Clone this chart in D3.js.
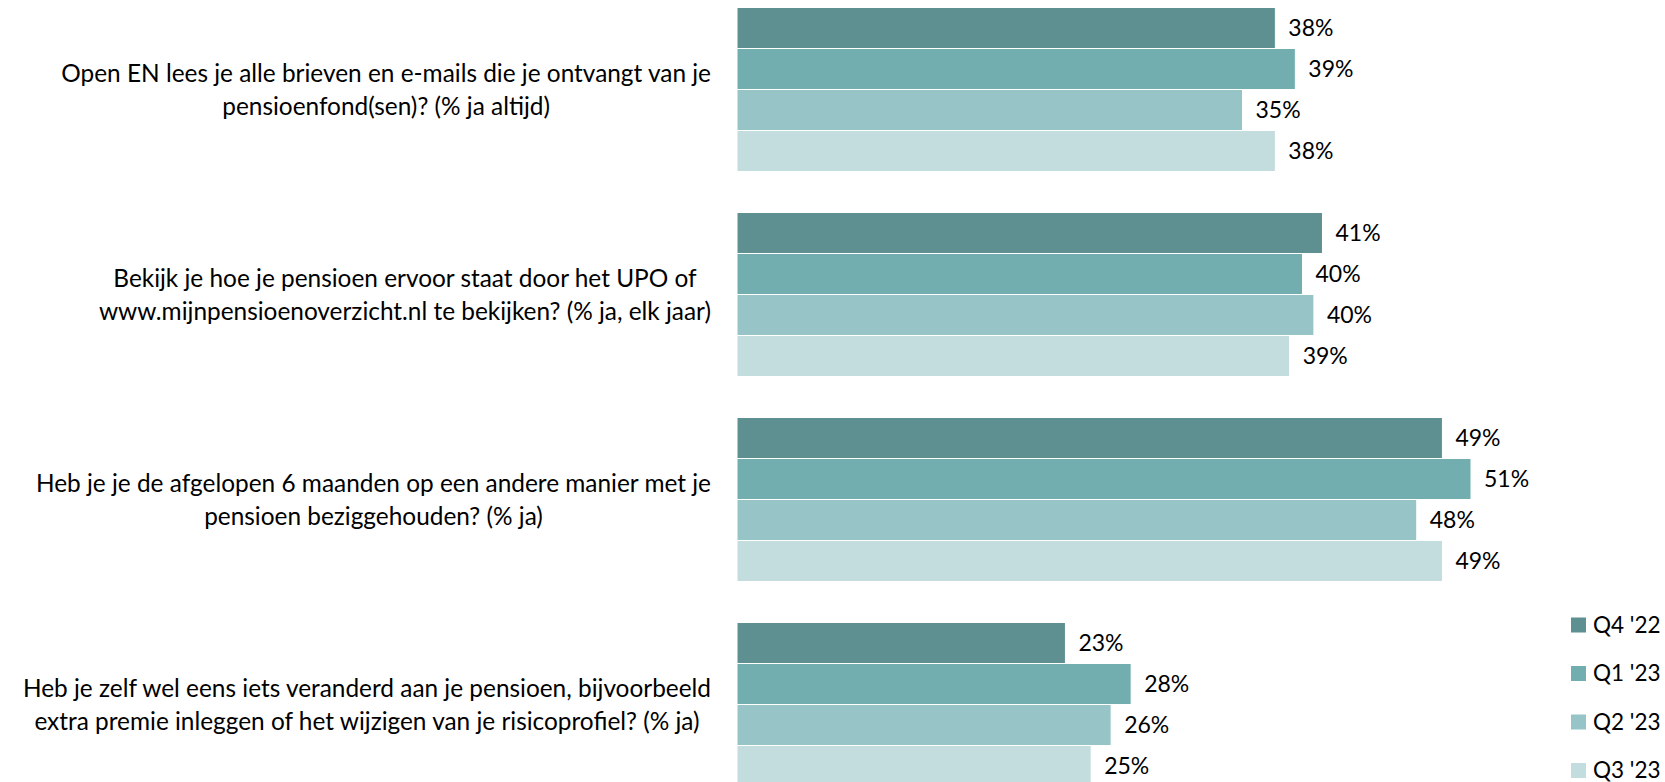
<!DOCTYPE html>
<html>
<head>
<meta charset="utf-8">
<script src="https://cdn.jsdelivr.net/npm/d3@7"></script>
<style>
  html, body { margin: 0; padding: 0; background: #fff; overflow: hidden; }
  text { font-family: Lato, "Open Sans", sans-serif; fill: #000; }
</style>
</head>
<body>
<svg id="chart" width="1665" height="782"></svg>
<script>
// ---- data ----
const categories = [
  ["Open EN lees je alle brieven en e-mails die je ontvangt van je", "pensioenfond(sen)? (% ja altijd)"],
  ["Bekijk je hoe je pensioen ervoor staat door het UPO of", "www.mijnpensioenoverzicht.nl te bekijken? (% ja, elk jaar)"],
  ["Heb je je de afgelopen 6 maanden op een andere manier met je", "pensioen beziggehouden? (% ja)"],
  ["Heb je zelf wel eens iets veranderd aan je pensioen, bijvoorbeeld", "extra premie inleggen of het wijzigen van je risicoprofiel? (% ja)"]
];
const seriesNames = ["Q4 '22", "Q1 '23", "Q2 '23", "Q3 '23"];
// values (labels show them rounded)
const q4_22 = [37.7, 41.0, 49.4, 23.0];
const q1_23 = [39.1, 39.6, 51.4, 27.6];
const q2_23 = [35.4, 40.4, 47.6, 26.2];
const q3_23 = [37.7, 38.7, 49.4, 24.8];
const seriesValues = [q4_22, q1_23, q2_23, q3_23];
const colors = ["#5e9092", "#72adb0", "#97c5c7", "#c3dcdd"];

// ---- layout ----
const svg = d3.select("#chart");
const x0 = 737;
const pxPerPct = 14.28;
const x = d3.scaleLinear().domain([0, 60]).range([x0, x0 + 60 * pxPerPct]);
const catIdx = d3.range(categories.length);
const y = d3.scaleBand().domain(catIdx).range([-13, 807]).paddingInner(0.2).paddingOuter(0.1);
const ySub = d3.scaleBand().domain(d3.range(seriesNames.length)).range([0, y.bandwidth()]);

const catFont = 24.4;
const valFont = 23;
const legFont = 22.5;
const labelRight = 711;

const groups = svg.selectAll("g.cat").data(catIdx).join("g")
  .attr("class", "cat")
  .attr("transform", i => `translate(0,${y(i)})`);

groups.each(function(ci) {
  const g = d3.select(this);
  seriesValues.forEach((vals, si) => {
    const v = vals[ci];
    g.append("rect")
      .attr("x", x(0))
      .attr("y", ySub(si))
      .attr("width", x(v) - x(0))
      .attr("height", ySub.bandwidth())
      .attr("fill", colors[si])
      .attr("stroke", "#ffffff")
      .attr("stroke-width", 1);
    g.append("text")
      .attr("x", x(v) + 13)
      .attr("y", ySub(si) + ySub.bandwidth() / 2)
      .attr("dy", "0.35em")
      .attr("font-size", valFont)
      .text(Math.round(v) + "%");
  });
  // category label: block centred, right-aligned against axis
  const lines = categories[ci];
  const texts = lines.map((l, li) => g.append("text")
      .attr("font-size", catFont)
      .attr("text-anchor", "middle")
      .attr("y", y.bandwidth() / 2 + (li - (lines.length - 1) / 2) * 33)
      .attr("dy", "0.35em")
      .text(l));
  const w = d3.max(texts, t => t.node().getComputedTextLength());
  texts.forEach(t => t.attr("x", labelRight - w / 2));
});

// ---- legend ----
const legend = svg.append("g").selectAll("g").data(seriesNames).join("g")
  .attr("transform", (d, i) => `translate(1571,${625 + i * 48.5})`);
legend.append("rect").attr("x", 0).attr("y", -7.5).attr("width", 15).attr("height", 15)
  .attr("fill", (d, i) => colors[i]);
legend.append("text").attr("x", 22).attr("dy", "0.35em").attr("font-size", legFont).text(d => d);
</script>
</body>
</html>
